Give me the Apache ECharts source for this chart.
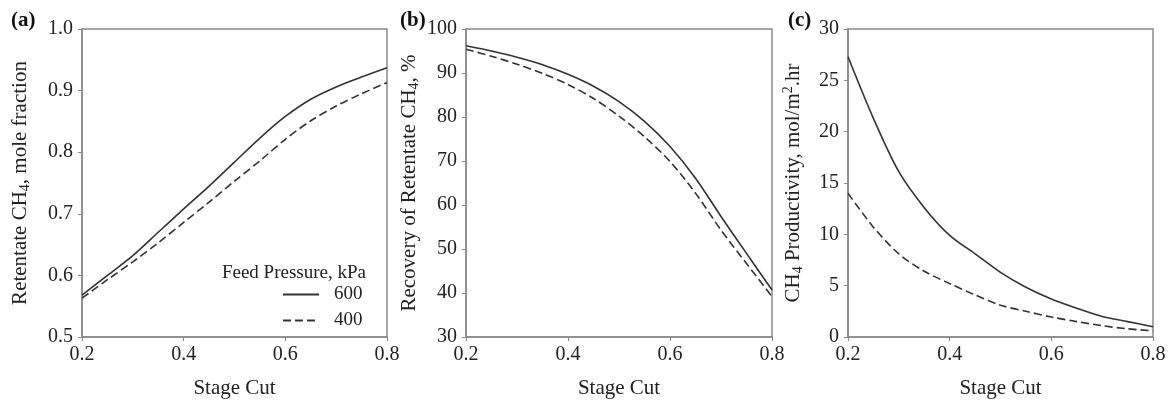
<!DOCTYPE html>
<html>
<head>
<meta charset="utf-8">
<script src="https://cdn.jsdelivr.net/npm/echarts@6/dist/echarts.min.js"></script>
<style>
  html, body { margin: 0; padding: 0; background: #fff; }
  #chart { width: 1173px; height: 402px; }
</style>
</head>
<body>
<div id="chart"></div>
<script>
// stage cut values shared by all three panels
var stageCut = [0.2, 0.25, 0.3, 0.35, 0.4, 0.45, 0.5, 0.55, 0.6, 0.65, 0.7, 0.75, 0.8];

// (a) retentate CH4 mole fraction
var purity600 = [0.568, 0.600, 0.632, 0.670, 0.708, 0.745, 0.784, 0.823, 0.858, 0.886, 0.906, 0.922, 0.937];
var purity400 = [0.563, 0.593, 0.622, 0.653, 0.686, 0.719, 0.753, 0.786, 0.821, 0.851, 0.875, 0.895, 0.913];

// (b) recovery of retentate CH4, %
var recovery600 = [96.2, 95.0, 93.6, 91.9, 89.7, 87.0, 83.5, 79.0, 73.3, 66.1, 57.4, 49.0, 40.7];
var recovery400 = [95.4, 93.8, 92.0, 89.9, 87.4, 84.2, 80.2, 75.5, 69.9, 62.7, 54.3, 46.7, 39.2];

// (c) CH4 productivity, mol/m2.hr
var product600 = [27.3, 21.3, 16.1, 12.6, 9.9, 8.1, 6.3, 4.85, 3.7, 2.8, 2.0, 1.5, 1.0];
var product400 = [14.0, 10.7, 8.1, 6.4, 5.2, 4.1, 3.1, 2.5, 1.95, 1.5, 1.1, 0.8, 0.6];

var xTicks = ["0.2", "0.4", "0.6", "0.8"];

var serif = "'Liberation Serif', 'Times New Roman', serif";
var axisGrey = "#8a8a8a";
var ink = "#222";

function pairs (ys) {
  return stageCut.map(function (x, i) { return [x, ys[i]]; });
}

var grids = [
  { left: 82, top: 29, width: 305, height: 308 },
  { left: 466, top: 29, width: 306, height: 308 },
  { left: 848, top: 29, width: 305, height: 308 }
];
grids.forEach(function (g) {
  g.show = true;
  g.borderColor = axisGrey;
  g.borderWidth = 1.5;
  g.backgroundColor = "transparent";
  g.containLabel = false;
  g.outerBoundsMode = "none"; // keep the plot boxes fixed (v6 would shrink them)
});

function xAxisFor (idx) {
  return {
    gridIndex: idx,
    type: "value",
    min: 0.2,
    max: 0.8,
    interval: 0.2,
    name: "Stage Cut",
    nameLocation: "middle",
    nameGap: 41,
    nameTextStyle: { fontFamily: serif, fontSize: 21, color: ink },
    axisLine: { show: true, lineStyle: { color: axisGrey, width: 1.5 } },
    axisTick: { show: true, inside: false, length: 4, lineStyle: { color: axisGrey } },
    axisLabel: {
      margin: 8,
      fontFamily: serif,
      fontSize: 20,
      color: ink,
      formatter: function (v) {
        var s = v.toFixed(1);
        return xTicks.indexOf(s) >= 0 ? s : "";
      }
    },
    splitLine: { show: false }
  };
}

var subRich = {
  t: { fontFamily: serif, fontSize: 21, color: ink },
  s: { fontFamily: serif, fontSize: 14, color: ink, padding: [10, 0, 0, 0] },
  p: { fontFamily: serif, fontSize: 14, color: ink, padding: [0, 0, 10, 0] }
};

function yAxisFor (idx, min, max, interval, digits, name, gap) {
  return {
    gridIndex: idx,
    type: "value",
    min: min,
    max: max,
    interval: interval,
    name: name,
    nameLocation: "middle",
    nameGap: gap,
    nameRotate: 90,
    nameTextStyle: { fontFamily: serif, fontSize: 21, color: ink, rich: subRich },
    axisLine: { show: true, lineStyle: { color: axisGrey, width: 1.5 } },
    axisTick: { show: true, inside: false, length: 4, lineStyle: { color: axisGrey } },
    axisLabel: {
      margin: 9,
      fontFamily: serif,
      fontSize: 20,
      color: ink,
      formatter: function (v) { return v.toFixed(digits); }
    },
    splitLine: { show: false }
  };
}

function lineSeries (name, idx, ys, dashed) {
  return {
    name: name,
    type: "line",
    xAxisIndex: idx,
    yAxisIndex: idx,
    data: pairs(ys),
    smooth: 0.3,
    symbol: "none",
    lineStyle: {
      color: "#333",
      width: 1.6,
      type: dashed ? [8, 4] : "solid"
    },
    itemStyle: { color: "#333" },
    z: 3
  };
}

function panelLabel (text, left) {
  return {
    text: text,
    left: left,
    top: 5,
    textStyle: { fontFamily: serif, fontSize: 21, fontWeight: "bold", color: "#111" }
  };
}

var chart = echarts.init(document.getElementById("chart"));

var option = {
  animation: false,
  backgroundColor: "#fff",
  title: [
    panelLabel("(a)", 6),
    panelLabel("(b)", 395),
    panelLabel("(c)", 783),
    {
      text: "Feed Pressure, kPa",
      right: 1173 - 371,
      top: 259,
      textStyle: { fontFamily: serif, fontSize: 19, fontWeight: "normal", color: ink }
    }
  ],
  legend: {
    data: ["600", "400"],
    orient: "vertical",
    left: 282,
    top: 285,
    itemWidth: 36,
    itemHeight: 14,
    itemGap: 7,
    padding: 0,
    itemStyle: { opacity: 0 },
    textStyle: { fontFamily: serif, fontSize: 19, color: ink, padding: [0, 0, 0, 10] }
  },
  grid: grids,
  xAxis: [xAxisFor(0), xAxisFor(1), xAxisFor(2)],
  yAxis: [
    yAxisFor(0, 0.5, 1.0, 0.1, 1, "{t|Retentate CH}{s|4}{t|, mole fraction}", 50),
    yAxisFor(1, 30, 100, 10, 0, "{t|Recovery of Retentate CH}{s|4}{t|, %}", 45),
    yAxisFor(2, 0, 30, 5, 0, "{t|CH}{s|4}{t| Productivity, mol/m}{p|2}{t|.hr}", 43)
  ],
  series: [
    lineSeries("600", 0, purity600, false),
    lineSeries("400", 0, purity400, true),
    lineSeries("600", 1, recovery600, false),
    lineSeries("400", 1, recovery400, true),
    lineSeries("600", 2, product600, false),
    lineSeries("400", 2, product400, true)
  ]
};

chart.setOption(option);
</script>
</body>
</html>
